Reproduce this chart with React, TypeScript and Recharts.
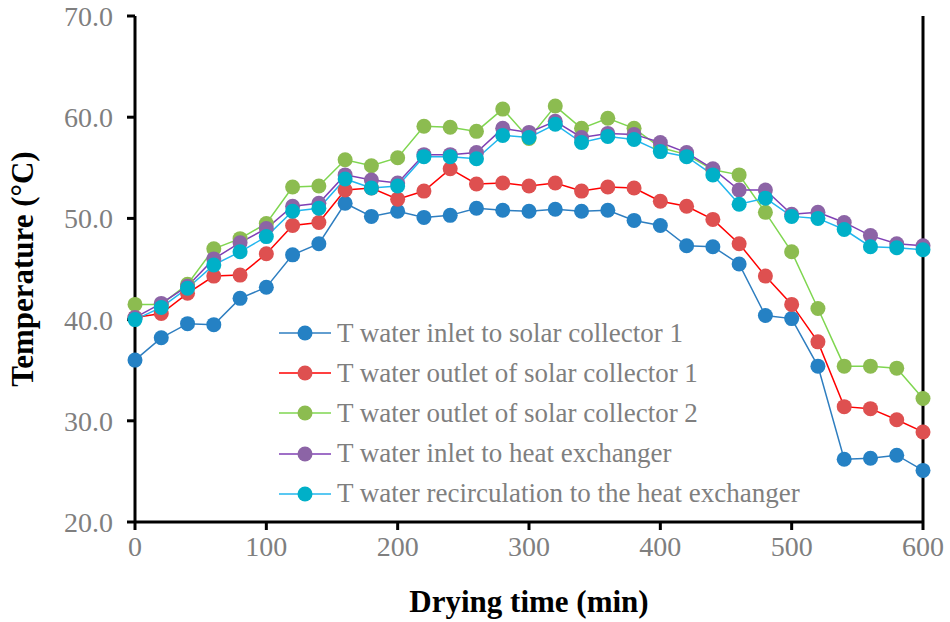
import { LineChart, Line, XAxis, YAxis, ReferenceLine } from "recharts";

const times = [0, 20, 40, 60, 80, 100, 120, 140, 160, 180, 200, 220, 240, 260, 280, 300, 320, 340, 360, 380, 400, 420, 440, 460, 480, 500, 520, 540, 560, 580, 600];

const inletCollector1 = [36.0, 38.2, 39.6, 39.5, 42.1, 43.2, 46.4, 47.5, 51.5, 50.2, 50.7, 50.1, 50.3, 51.0, 50.8, 50.7, 50.9, 50.7, 50.8, 49.8, 49.3, 47.3, 47.2, 45.5, 40.4, 40.1, 35.4, 26.2, 26.3, 26.6, 25.1];
const outletCollector1 = [40.2, 40.6, 42.6, 44.3, 44.4, 46.5, 49.3, 49.6, 52.8, 53.0, 51.9, 52.7, 54.9, 53.4, 53.5, 53.2, 53.5, 52.7, 53.1, 53.0, 51.7, 51.2, 49.9, 47.5, 44.3, 41.5, 37.8, 31.4, 31.2, 30.1, 28.9];
const outletCollector2 = [41.5, 41.5, 43.5, 47.0, 48.0, 49.5, 53.1, 53.2, 55.8, 55.2, 56.0, 59.1, 59.0, 58.6, 60.8, 57.9, 61.1, 58.9, 59.9, 58.9, 57.0, 56.3, 54.8, 54.3, 50.6, 46.7, 41.1, 35.4, 35.4, 35.2, 32.2];
const inletExchanger = [40.2, 41.6, 43.3, 46.0, 47.6, 49.0, 51.2, 51.5, 54.3, 53.8, 53.5, 56.3, 56.3, 56.5, 58.9, 58.5, 59.6, 58.0, 58.4, 58.3, 57.5, 56.5, 54.9, 52.8, 52.8, 50.4, 50.6, 49.6, 48.3, 47.5, 47.3];
const recirculation = [40.0, 41.2, 43.1, 45.4, 46.7, 48.2, 50.7, 51.0, 53.9, 53.0, 53.2, 56.1, 56.1, 55.9, 58.2, 58.0, 59.3, 57.5, 58.1, 57.8, 56.6, 56.1, 54.3, 51.4, 52.0, 50.2, 50.0, 48.9, 47.2, 47.1, 46.9];

const xTicks = [0, 100, 200, 300, 400, 500, 600];
const yTicks = [20, 30, 40, 50, 60, 70];

const series = [
  { key: "s1", name: "T water inlet to solar collector 1", values: inletCollector1, line: "#2E7EC0", dot: "#2581C4" },
  { key: "s2", name: "T water outlet of solar collector 1", values: outletCollector1, line: "#FF0000", dot: "#DE5050" },
  { key: "s3", name: "T water outlet of solar collector 2", values: outletCollector2, line: "#7FD650", dot: "#8CBC50" },
  { key: "s4", name: "T water inlet to heat exchanger", values: inletExchanger, line: "#7F3FB5", dot: "#8C64A6" },
  { key: "s5", name: "T water recirculation to the heat exchanger", values: recirculation, line: "#22B6EE", dot: "#00B0C8" },
];

const data = times.map((t, i) => {
  const row: Record<string, number> = { t };
  series.forEach((s) => {
    row[s.key] = s.values[i];
  });
  return row;
});

const font = "'Liberation Serif', 'Times New Roman', serif";

// legend sits inside the plot, drawn as an overlay
function LegendBox() {
  return (
    <div style={{ position: "absolute", left: 279, top: 313, fontFamily: font, fontSize: 27, color: "#7f7f7f" }}>
      {series.map((s) => (
        <div key={s.key} style={{ display: "flex", alignItems: "center", height: 40.2 }}>
          <svg width={54} height={20}>
            <line x1={0} y1={10} x2={52} y2={10} stroke={s.line} strokeWidth={1.5} />
            <circle cx={26} cy={10} r={7.5} fill={s.dot} />
          </svg>
          <span style={{ marginLeft: 4, whiteSpace: "nowrap", lineHeight: 1 }}>{s.name}</span>
        </div>
      ))}
    </div>
  );
}

export default function App() {
  return (
    <div style={{ position: "relative", width: 950, height: 622 }}>
      <style>{`body{margin:0}`}</style>
      <LineChart width={950} height={622} data={data} margin={{ top: 16, right: 27, left: 0, bottom: 0 }}>
        <XAxis
          dataKey="t"
          type="number"
          domain={[0, 600]}
          ticks={xTicks}
          height={100}
          stroke="#000"
          strokeWidth={3}
          tickSize={8}
          tickMargin={6}
          tick={{ fill: "#7f7f7f", fontSize: 28, fontFamily: font }}
          label={{ value: "Drying time (min)", position: "insideBottom", offset: 10, fill: "#000", fontSize: 31, fontWeight: "bold", fontFamily: font }}
        />
        <YAxis
          type="number"
          domain={[20, 70]}
          ticks={yTicks}
          width={135}
          stroke="#000"
          strokeWidth={3}
          tickSize={8}
          tickMargin={14}
          tickFormatter={(v: number) => v.toFixed(1)}
          tick={{ fill: "#7f7f7f", fontSize: 28, fontFamily: font }}
          label={{ value: "Temperature (°C)", angle: -90, position: "insideLeft", offset: 22, style: { textAnchor: "middle" }, fill: "#000", fontSize: 31, fontWeight: "bold", fontFamily: font }}
        />
        <ReferenceLine x={600} stroke="#000" strokeWidth={3} />
        {series.map((s) => (
          <Line
            key={s.key}
            dataKey={s.key}
            name={s.name}
            stroke={s.line}
            strokeWidth={1.5}
            dot={{ r: 7.5, fill: s.dot, stroke: s.dot, strokeWidth: 0 }}
            activeDot={false}
            isAnimationActive={false}
          />
        ))}
      </LineChart>
      <LegendBox />
    </div>
  );
}
